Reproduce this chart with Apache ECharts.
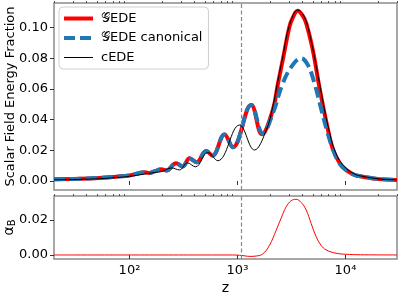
<!DOCTYPE html>
<html><head><meta charset="utf-8">
<script src="https://cdn.jsdelivr.net/npm/echarts@6/dist/echarts.min.js"></script>
<style>html,body{margin:0;padding:0;background:#fff}#c{width:399px;height:299px}</style>
</head><body><div id="c"></div>
<script>
// ---- data ----
const gedeZ = [20, 34, 53, 75, 100, 138, 153, 170, 197, 220, 270, 310, 360, 417, 513, 587, 758, 904, 1340, 1680, 2123, 2362, 2626, 3027, 3228, 3614, 3998, 4325, 4979, 5741, 6625, 7627, 8790, 10140, 12100, 14450, 20640, 30000];
const gedeV = [0.0011, 0.0014, 0.002, 0.0028, 0.0036, 0.0057, 0.0052, 0.0062, 0.0076, 0.0068, 0.0116, 0.0095, 0.0148, 0.0122, 0.0196, 0.0165, 0.0303, 0.022, 0.0496, 0.0305, 0.0463, 0.063, 0.079, 0.1006, 0.106, 0.111, 0.108, 0.103, 0.0855, 0.061, 0.039, 0.021, 0.012, 0.0072, 0.004, 0.0028, 0.0012, 0.0007];

const canonZ = [20, 34, 53, 75, 100, 138, 153, 170, 197, 220, 270, 310, 360, 417, 513, 587, 758, 904, 1340, 1715, 2123, 2626, 3245, 3890, 4480, 5164, 5957, 6857, 7627, 8790, 10140, 12100, 14450, 20640, 30000];
const canonV = [0.0011, 0.0014, 0.002, 0.0028, 0.0036, 0.0057, 0.0052, 0.0062, 0.0076, 0.0068, 0.0116, 0.0095, 0.0148, 0.0122, 0.0196, 0.0165, 0.0303, 0.022, 0.0496, 0.031, 0.044, 0.0637, 0.0757, 0.080, 0.0757, 0.0637, 0.047, 0.031, 0.021, 0.0115, 0.007, 0.004, 0.0028, 0.0012, 0.0007];

const cedeZ = [20, 34, 53, 75, 100, 138, 170, 200, 245, 290, 344, 408, 531, 657, 1043, 1435, 1845, 2123, 2362, 2626, 3027, 3614, 4100, 4642, 5741, 6625, 7110, 7627, 8790, 10140, 12100, 14450, 20640, 30000];
const cedeV = [0.0008, 0.001, 0.0015, 0.0022, 0.003, 0.0045, 0.0055, 0.0062, 0.0085, 0.0072, 0.0118, 0.0092, 0.0185, 0.0132, 0.0365, 0.0202, 0.033, 0.0485, 0.065, 0.081, 0.1015, 0.1115, 0.108, 0.0963, 0.064, 0.041, 0.032, 0.0235, 0.0135, 0.0083, 0.0045, 0.003, 0.0013, 0.0008];

const alphaZ = [20, 200, 500, 900, 1100, 1300, 1489, 1714, 1978, 2278, 2542, 2830, 3140, 3485, 3890, 4325, 4810, 5350, 5950, 6625, 8200, 10900, 15000, 30000];
const alphaV = [0, 0, 0, 0, -0.0003, -0.0008, -0.0006, 0.0006, 0.0055, 0.0140, 0.0212, 0.0276, 0.031, 0.0318, 0.030, 0.0257, 0.0180, 0.0105, 0.0055, 0.0029, 0.001, 0.0003, 0.0001, 0];

const zRec = 1090;
const xMajorTicks = [100, 1000, 10000];
const xMajorLabels = {100: '10\u00B2', 1000: '10\u00B3', 10000: '10\u2074'};
const xMinorTicks = [20, 30, 40, 50, 60, 70, 80, 90, 200, 300, 400, 500, 600, 700, 800, 900, 2000, 3000, 4000, 5000, 6000, 7000, 8000, 9000, 20000, 30000];
const topYTicks = [0, 0.02, 0.04, 0.06, 0.08, 0.10];
const botYTicks = [0, 0.02];
const seriesNames = ['\uD835\uDCA2EDE', '\uD835\uDCA2EDE canonical', 'cEDE'];

// ---- chart ----
const pairs = (zs, vs) => zs.map((z, i) => [z, vs[i]]);
const FONT = 'DejaVu Sans';
const AX = '#8c8c8c';
const chart = echarts.init(document.getElementById('c'), null, {renderer: 'canvas'});

function xAxisMajor(grid, showLabels, name) {
  return {
    type: 'log', logBase: 10, gridIndex: grid, min: 20, max: 30000,
    axisLine: {show: false},
    splitLine: {show: false}, minorTick: {show: false},
    axisTick: {show: true, inside: false, length: 4, customValues: xMajorTicks, lineStyle: {color: '#333', width: 1}},
    axisLabel: {show: showLabels, customValues: xMajorTicks, margin: 5, color: '#000', fontSize: 13, fontFamily: FONT,
      formatter: v => xMajorLabels[Math.round(v)] || ''},
    name: name || '', nameLocation: 'middle', nameGap: 22, nameMoveOverlap: false,
    nameTextStyle: {color: '#000', fontSize: 14, fontFamily: FONT}
  };
}
function xAxisMinor(grid) {
  return {
    type: 'log', logBase: 10, gridIndex: grid, min: 20, max: 30000,
    axisLine: {show: false}, splitLine: {show: false},
    axisTick: {show: true, length: 2, customValues: xMinorTicks, lineStyle: {color: '#333', width: 0.8}},
    axisLabel: {show: false}
  };
}

const option = {
  animation: false,
  backgroundColor: '#fff',
  grid: [
    {left: 54, top: 3, width: 343, height: 187, show: true, borderColor: AX, borderWidth: 1.5, backgroundColor: 'transparent', containLabel: false, outerBoundsMode: 'none'},
    {left: 54, top: 196, width: 343, height: 63, show: true, borderColor: AX, borderWidth: 1.5, backgroundColor: 'transparent', containLabel: false, outerBoundsMode: 'none'}
  ],
  xAxis: [xAxisMajor(0, false), xAxisMinor(0), xAxisMajor(1, true, 'z'), xAxisMinor(1)],
  yAxis: [
    {type: 'value', gridIndex: 0, min: -0.0059, max: 0.1161,
      axisLine: {show: false}, splitLine: {show: false},
      axisTick: {show: true, length: 4, customValues: topYTicks, lineStyle: {color: '#333'}},
      axisLabel: {customValues: topYTicks, margin: 6, color: '#000', fontSize: 13, fontFamily: FONT, formatter: v => v.toFixed(2)},
      name: 'Scalar Field Energy Fraction', nameLocation: 'middle', nameGap: 37, nameMoveOverlap: false,
      nameTextStyle: {color: '#000', fontSize: 13, fontFamily: FONT}},
    {type: 'value', gridIndex: 1, min: -0.0023, max: 0.0337,
      axisLine: {show: false}, splitLine: {show: false},
      axisTick: {show: true, length: 4, customValues: botYTicks, lineStyle: {color: '#333'}},
      axisLabel: {customValues: botYTicks, margin: 6, color: '#000', fontSize: 13, fontFamily: FONT, formatter: v => v.toFixed(2)},
      name: '{a|\u03B1}{b|B}', nameLocation: 'middle', nameGap: 37, nameMoveOverlap: false,
      nameTextStyle: {color: '#000', fontFamily: FONT,
        rich: {a: {fontSize: 14, fontFamily: FONT, color: '#000'}, b: {fontSize: 10, fontFamily: FONT, color: '#000', verticalAlign: 'bottom', padding: [6, 0, 0, 0]}}}}
  ],
  legend: {
    left: 59, top: 7, orient: 'vertical', itemWidth: 29, itemHeight: 12, itemGap: 6.5,
    padding: [5, 6, 5, 3], borderColor: '#d0d0d0', borderWidth: 1, borderRadius: 4,
    backgroundColor: 'rgba(255,255,255,0.85)',
    textStyle: {fontSize: 13, color: '#000', fontFamily: FONT, padding: [0, 0, 0, 3]},
    lineStyle: {width: 'inherit'},
    itemStyle: {opacity: 0},
    data: seriesNames
  },
  series: [
    {name: seriesNames[0], type: 'line', xAxisIndex: 0, yAxisIndex: 0, data: pairs(gedeZ, gedeV),
      smooth: 0.4, symbol: 'none', lineStyle: {color: '#ff0000', width: 4}, itemStyle: {color: '#ff0000'}, z: 2,
      markLine: {silent: true, symbol: 'none', label: {show: false},
        lineStyle: {color: '#888', type: [4, 2.5], width: 1.2}, data: [{xAxis: zRec}]}},
    {name: seriesNames[1], type: 'line', xAxisIndex: 0, yAxisIndex: 0, data: pairs(canonZ, canonV),
      smooth: 0.4, symbol: 'none', lineStyle: {color: '#1f77b4', width: 4, type: [11, 5]}, itemStyle: {color: '#1f77b4'}, z: 3},
    {name: seriesNames[2], type: 'line', xAxisIndex: 0, yAxisIndex: 0, data: pairs(cedeZ, cedeV),
      smooth: 0.4, symbol: 'none', lineStyle: {color: '#000', width: 1}, itemStyle: {color: '#000'}, z: 4},
    {name: 'alphaB', type: 'line', xAxisIndex: 2, yAxisIndex: 1, data: pairs(alphaZ, alphaV),
      smooth: 0.4, symbol: 'none', lineStyle: {color: '#ff0000', width: 1}, itemStyle: {color: '#ff0000'}, z: 2,
      markLine: {silent: true, symbol: 'none', label: {show: false},
        lineStyle: {color: '#888', type: [4, 2.5], width: 1.2}, data: [{xAxis: zRec}]}}
  ]
};
chart.setOption(option);
</script>
</body></html>
